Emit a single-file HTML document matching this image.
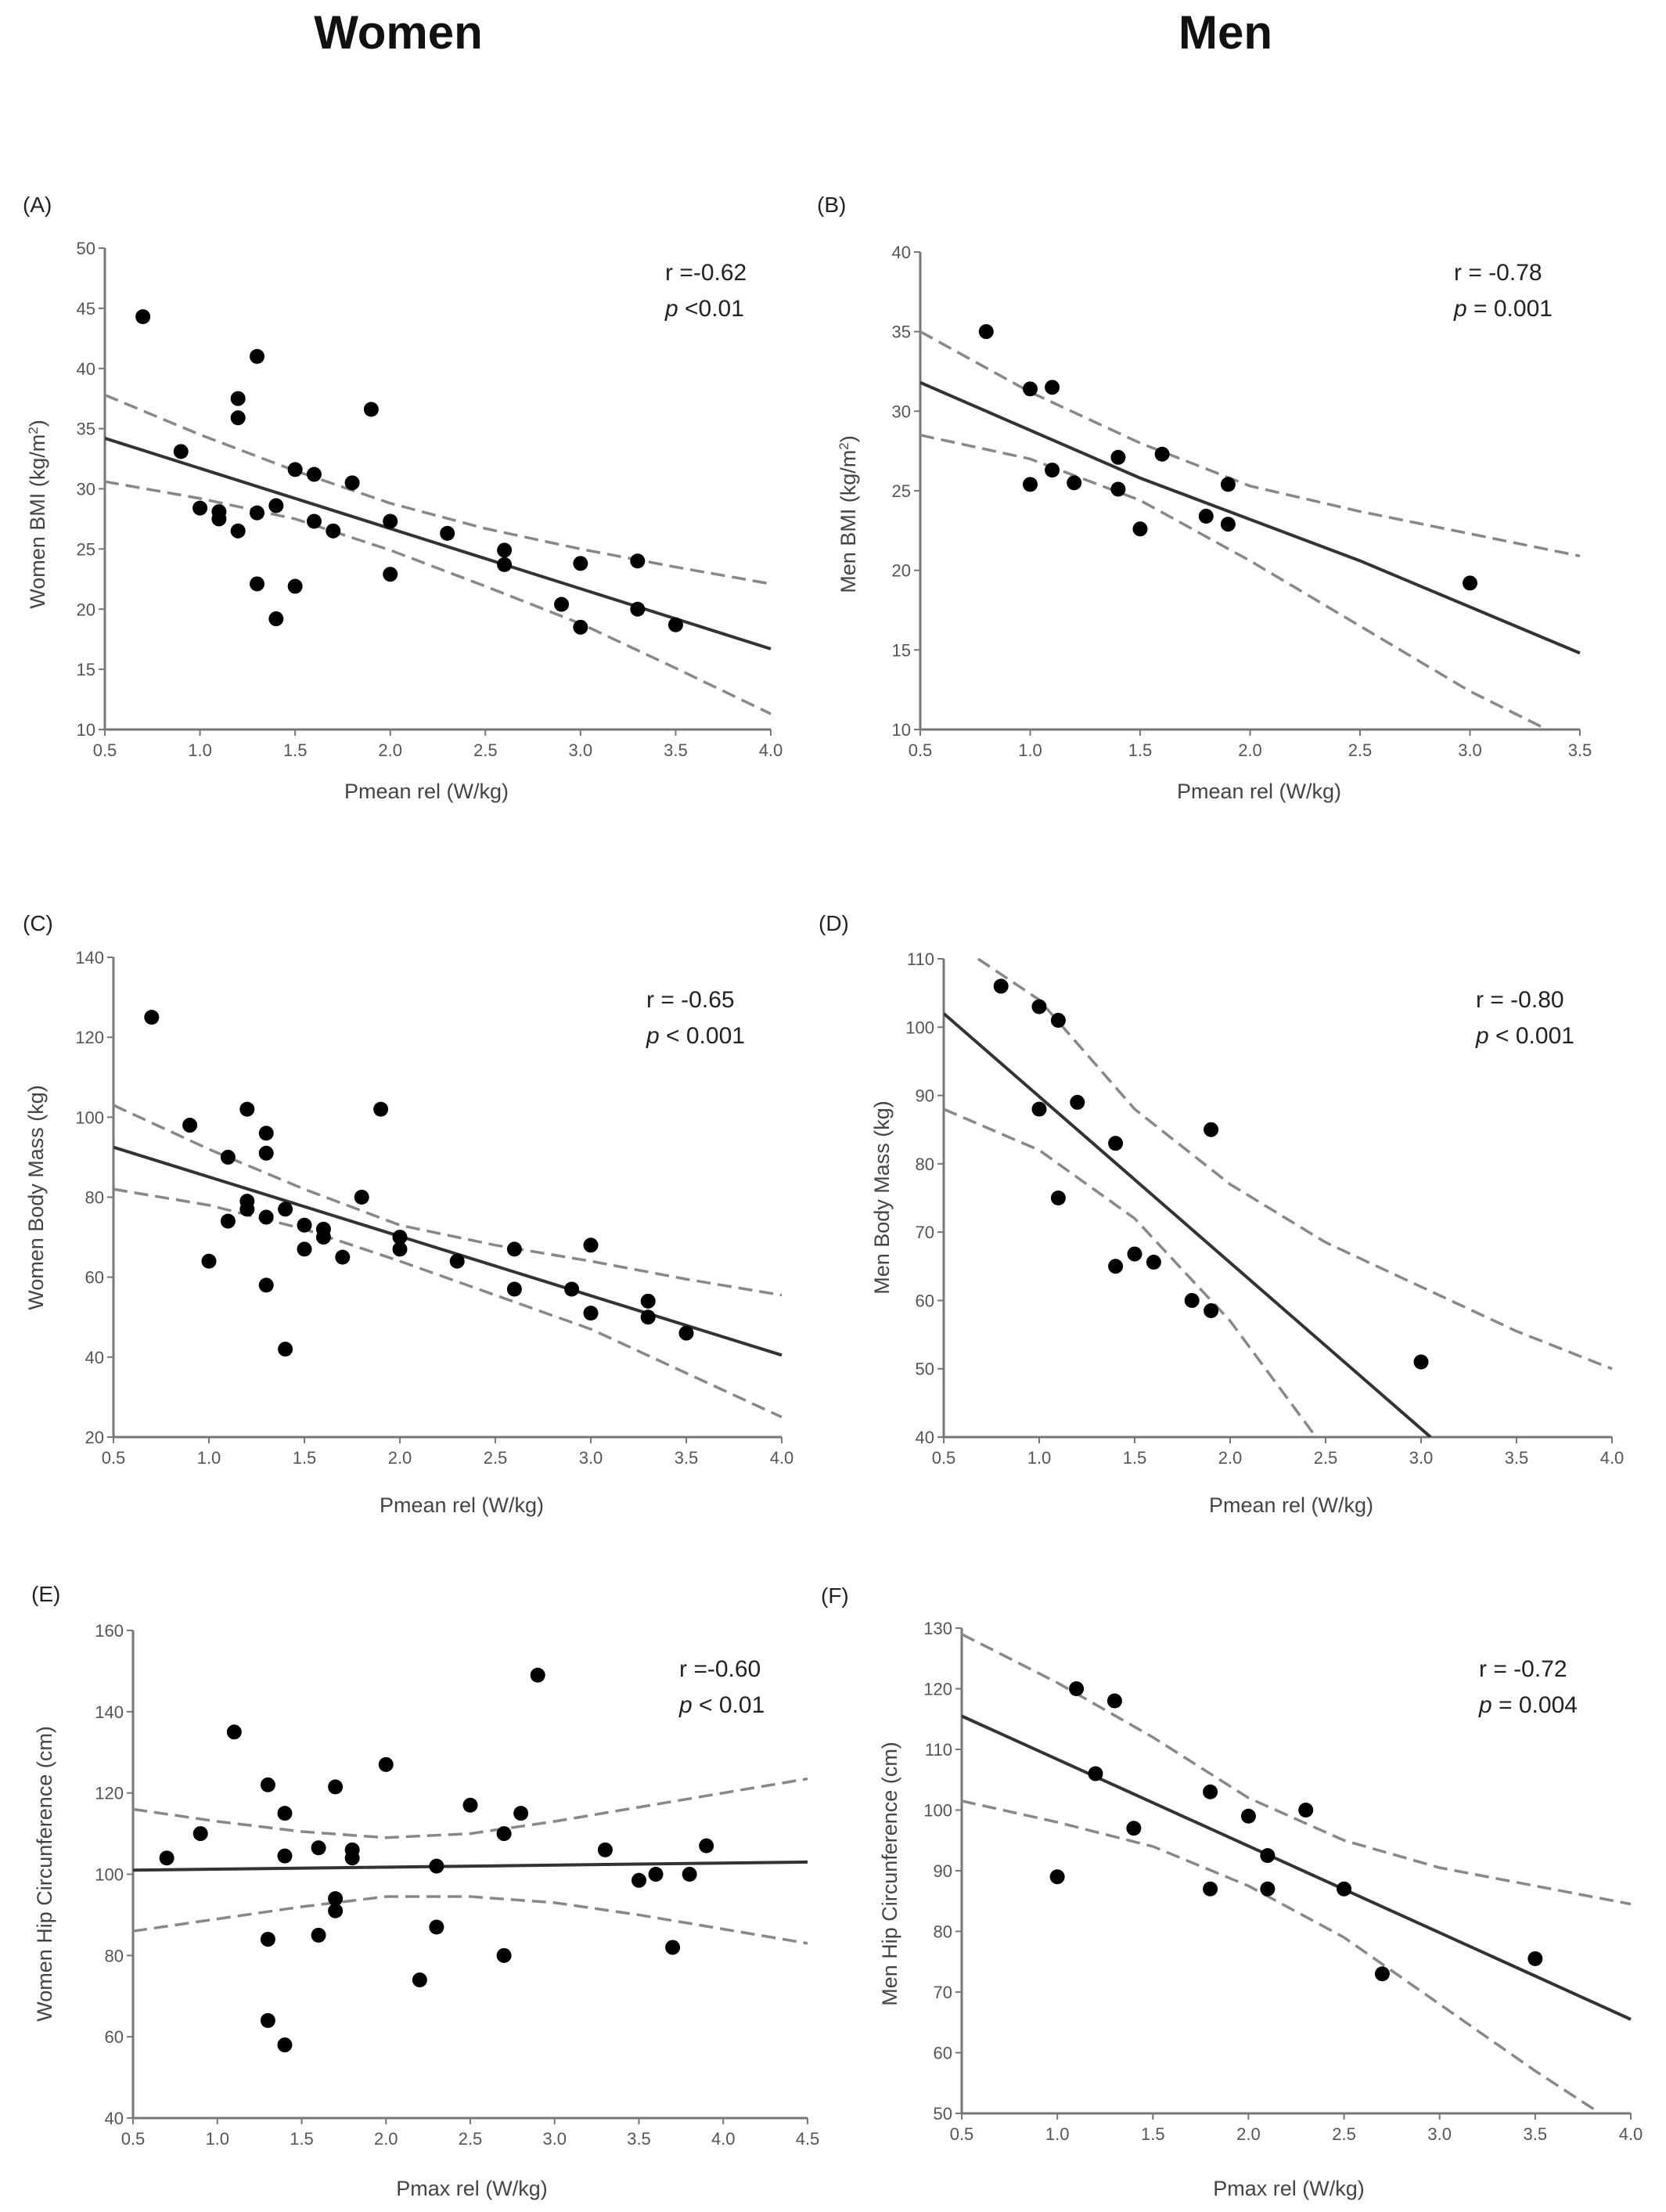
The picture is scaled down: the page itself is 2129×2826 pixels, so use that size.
<!DOCTYPE html>
<html><head><meta charset="utf-8">
<style>
html,body{margin:0;padding:0;background:#fff;}
svg{display:block;font-family:"Liberation Sans",sans-serif;}
</style></head>
<body>
<svg id="fig" width="2129" height="2826" viewBox="0 0 2129 2826" xmlns="http://www.w3.org/2000/svg">
<text x="509" y="62" text-anchor="middle" font-size="60" font-weight="bold" fill="#111">Women</text>
<text x="1566" y="62" text-anchor="middle" font-size="60" font-weight="bold" fill="#111">Men</text>
</svg>
<script>
// ---- Panel A data ----
const aX=[0.7,0.9,1.0,1.1,1.1,1.2,1.2,1.2,1.3,1.3,1.3,1.4,1.4,1.5,1.5,1.6,1.6,1.7,1.8,1.9,2.0,2.0,2.3,2.6,2.6,2.9,3.0,3.0,3.3,3.3,3.5];
const aY=[44.3,33.1,28.4,28.1,27.5,37.5,35.9,26.5,41,28,22.1,28.6,19.2,31.6,21.9,31.2,27.3,26.5,30.5,36.6,27.3,22.9,26.3,24.9,23.7,20.4,23.8,18.5,24,20,18.7];
const aFitX=[0.5,4.0], aFitY=[34.2,16.7];
const aCiX=[0.5,1.0,1.5,2.0,2.5,3.0,3.5,4.0];
const aUp=[37.8,34.5,31.5,28.8,26.7,25.0,23.5,22.1];
const aLo=[30.6,29.2,27.5,24.9,21.9,18.8,15.1,11.3];
// ---- Panel B data ----
const bX=[0.8,1.0,1.0,1.1,1.1,1.2,1.4,1.4,1.5,1.6,1.8,1.9,1.9,3.0];
const bY=[35,31.4,25.4,31.5,26.3,25.5,27.1,25.1,22.6,27.3,23.4,25.4,22.9,19.2];
const bFitX=[0.5,1.5,2.5,3.5], bFitY=[31.8,25.8,20.6,14.8];
const bUpX=[0.5,1.0,1.5,2.0,2.5,3.0,3.5];
const bUp=[35,31.2,28,25.3,23.7,22.3,20.9];
const bLoX=[0.5,1.0,1.5,2.0,2.5,3.0,3.35];
const bLo=[28.5,27,24.4,20.6,16.5,12.4,10];
// ---- Panel C data ----
const cX=[0.7,0.9,1.0,1.1,1.1,1.2,1.2,1.2,1.3,1.3,1.3,1.3,1.4,1.4,1.5,1.5,1.6,1.6,1.7,1.8,1.9,2.0,2.0,2.3,2.6,2.6,2.9,3.0,3.0,3.3,3.3,3.5];
const cY=[125,98,64,90,74,102,79,77,96,91,75,58,77,42,73,67,72,70,65,80,102,70,67,64,67,57,57,68,51,54,50,46];
const cFitX=[0.5,4.0], cFitY=[92.5,40.5];
const cCiX=[0.5,1.0,1.5,2.0,2.5,3.0,3.5,4.0];
const cUp=[103,92,82,73,68,64,59.5,55.5];
const cLo=[82,78,72,64,55.5,47,36,25];
// ---- Panel D data ----
const dX=[0.8,1.0,1.0,1.1,1.1,1.2,1.4,1.4,1.5,1.6,1.8,1.9,1.9,3.0];
const dY=[106,103,88,101,75,89,83,65,66.8,65.6,60,58.5,85,51];
const dFitX=[0.5,3.05], dFitY=[102,40];
const dUpX=[0.68,1.0,1.5,2.0,2.5,3.0,3.5,4.0];
const dUp=[110,104,88,77,68.5,62,55.5,50];
const dLoX=[0.5,1.0,1.5,2.0,2.45];
const dLo=[88,82,72,57,40];
// ---- Panel E data ----
const eX=[0.7,0.9,1.1,1.3,1.3,1.3,1.4,1.4,1.4,1.6,1.6,1.7,1.7,1.7,1.8,1.8,2.0,2.2,2.3,2.3,2.5,2.7,2.7,2.8,2.9,3.3,3.5,3.6,3.7,3.8,3.9];
const eY=[104,110,135,122,84,64,115,104.5,58,106.5,85,121.5,94,91,106,104,127,74,102,87,117,110,80,115,149,106,98.5,100,82,100,107];
const eFitX=[0.5,4.5], eFitY=[101,103];
const eCiX=[0.5,1.0,1.5,2.0,2.5,3.0,3.5,4.0,4.5];
const eUp=[116,113,110.5,109,110,113,116.5,120,123.5];
const eLo=[86,89,92,94.5,94.5,93,90,86.5,83];
// ---- Panel F data ----
const fX=[1.0,1.1,1.2,1.3,1.4,1.8,1.8,2.0,2.1,2.1,2.3,2.5,2.7,3.5];
const fY=[89,120,106,118,97,103,87,99,92.5,87,100,87,73,75.5];
const fFitX=[0.5,4.0], fFitY=[115.5,65.5];
const fUpX=[0.5,1.0,1.5,2.0,2.5,3.0,3.5,4.0];
const fUp=[129,121,112,102,95,90.5,87.5,84.5];
const fLoX=[0.5,1.0,1.5,2.0,2.5,3.0,3.5,3.84];
const fLo=[101.5,98,94,87.5,79,68,57,50];
// ---- ticks ----
const ticksX35=['0.5','1.0','1.5','2.0','2.5','3.0','3.5'];
const ticksX40=['0.5','1.0','1.5','2.0','2.5','3.0','3.5','4.0'];
const ticksX45=['0.5','1.0','1.5','2.0','2.5','3.0','3.5','4.0','4.5'];
const ticksYA=['10','15','20','25','30','35','40','45','50'];
const ticksYB=['10','15','20','25','30','35','40'];
const ticksYC=['20','40','60','80','100','120','140'];
const ticksYD=['40','50','60','70','80','90','100','110'];
const ticksYE=['40','60','80','100','120','140','160'];
const ticksYF=['50','60','70','80','90','100','110','120','130'];

const NS='http://www.w3.org/2000/svg';
const svg=document.getElementById('fig');
function mk(tag,attrs,parent){const e=document.createElementNS(NS,tag);for(const k in attrs)e.setAttribute(k,attrs[k]);(parent||svg).appendChild(e);return e;}

function panel(p){
  const g=mk('g',{});
  
  
  const xs=v=>p.x0+(v-p.xmin)/(p.xmax-p.xmin)*(p.x1-p.x0);
  const ys=v=>p.y1-(v-p.ymin)/(p.ymax-p.ymin)*(p.y1-p.y0);
  const lab=mk('text',{x:p.lx,y:p.ly,'font-size':28,fill:'#222'},g);lab.textContent='('+p.id+')';
  
  
  const ax=mk('path',{d:`M${p.x0},${p.y0}V${p.y1}H${p.x1}`,stroke:'#777',fill:'none','stroke-width':3},g);
  
  
  p.xt.forEach(t=>{const X=xs(+t);
    mk('line',{x1:X,x2:X,y1:p.y1,y2:p.y1+8,stroke:'#777','stroke-width':2},g);
    const tx=mk('text',{x:X,y:p.y1+34,'text-anchor':'middle','font-size':22,fill:'#555'},g);tx.textContent=t;
    
    });
  p.yt.forEach(t=>{const Y=ys(+t);
    mk('line',{x1:p.x0-8,x2:p.x0,y1:Y,y2:Y,stroke:'#777','stroke-width':2},g);
    const tx=mk('text',{x:p.x0-12,y:Y+8,'text-anchor':'end','font-size':22,fill:'#555'},g);tx.textContent=t;
    
    });
  const xtt=mk('text',{x:p.xtx,y:p.xty,'text-anchor':'middle','font-size':27,fill:'#444'},g);xtt.textContent=p.xtitle;
  
  
  const ytt=mk('text',{x:0,y:0,'text-anchor':'middle','font-size':27,fill:'#444',transform:`translate(${p.ytx},${p.yty}) rotate(-90)`},g);
  ytt.innerHTML=p.ytitle;
  
  
  const cid='clip'+p.id;
  const cp=mk('clipPath',{id:cid},g);mk('rect',{x:p.x0,y:p.y0-30,width:p.x1-p.x0+4,height:p.y1-p.y0+30},cp);
  const line=(X,Y,dash,name)=>{const pl=mk('polyline',{points:X.map((v,i)=>xs(v)+','+ys(Y[i])).join(' '),fill:'none',stroke:dash?'#888':'#333','stroke-width':dash?3.5:4,'stroke-dasharray':dash?'18 9':'none','clip-path':`url(#${cid})`},g);
    
    };
  line(p.upX,p.up,true,'upper-ci-line');
  line(p.loX,p.lo,true,'lower-ci-line');
  line(p.fitX,p.fitY,false,'regression-line');
  p.px.forEach((v,i)=>{const c=mk('circle',{cx:xs(v),cy:ys(p.py[i]),r:9.5,fill:'#000'},g);
    
    });
  const r=mk('text',{x:p.sx,y:p.sy,'font-size':30,fill:'#222'},g);r.textContent=p.r;
  
  
  const pv=mk('text',{x:p.sx,y:p.sy+46,'font-size':30,fill:'#222'},g);pv.innerHTML='<tspan font-style="italic">p</tspan>'+p.p;
  
  
}
const PM='Pmean rel (W/kg)', PX='Pmax rel (W/kg)';
panel({id:'A',x0:134,x1:985,y0:317,y1:932,xmin:0.5,xmax:4,ymin:10,ymax:50,xt:ticksX40,yt:ticksYA,lx:29,ly:271,xtitle:PM,xtx:545,xty:1020,ytitle:'Women  BMI (kg/m<tspan baseline-shift="super" font-size="17">2</tspan>)',ytx:57,yty:657,px:aX,py:aY,fitX:aFitX,fitY:aFitY,upX:aCiX,up:aUp,loX:aCiX,lo:aLo,sx:850,sy:358,r:'r =-0.62',p:' <0.01'});
panel({id:'B',x0:1176,x1:2019,y0:322,y1:932,xmin:0.5,xmax:3.5,ymin:10,ymax:40,xt:ticksX35,yt:ticksYB,lx:1044,ly:271,xtitle:PM,xtx:1609,xty:1020,ytitle:'Men  BMI (kg/m<tspan baseline-shift="super" font-size="17">2</tspan>)',ytx:1093,yty:657,px:bX,py:bY,fitX:bFitX,fitY:bFitY,upX:bUpX,up:bUp,loX:bLoX,lo:bLo,sx:1858,sy:358,r:'r = -0.78',p:' = 0.001'});
panel({id:'C',x0:145,x1:999,y0:1223,y1:1836,xmin:0.5,xmax:4,ymin:20,ymax:140,xt:ticksX40,yt:ticksYC,lx:29,ly:1189,xtitle:PM,xtx:590,xty:1932,ytitle:'Women Body Mass (kg)',ytx:55,yty:1530,px:cX,py:cY,fitX:cFitX,fitY:cFitY,upX:cCiX,up:cUp,loX:cCiX,lo:cLo,sx:826,sy:1287,r:'r = -0.65',p:' < 0.001'});
panel({id:'D',x0:1206,x1:2060,y0:1225,y1:1836,xmin:0.5,xmax:4,ymin:40,ymax:110,xt:ticksX40,yt:ticksYD,lx:1046,ly:1189,xtitle:PM,xtx:1650,xty:1932,ytitle:'Men Body Mass (kg)',ytx:1136,yty:1530,px:dX,py:dY,fitX:dFitX,fitY:dFitY,upX:dUpX,up:dUp,loX:dLoX,lo:dLo,sx:1886,sy:1287,r:'r = -0.80',p:' < 0.001'});
panel({id:'E',x0:170,x1:1032,y0:2083,y1:2706,xmin:0.5,xmax:4.5,ymin:40,ymax:160,xt:ticksX45,yt:ticksYE,lx:40,ly:2046,xtitle:PX,xtx:603,xty:2805,ytitle:'Women Hip Circunference (cm)',ytx:66,yty:2394,px:eX,py:eY,fitX:eFitX,fitY:eFitY,upX:eCiX,up:eUp,loX:eCiX,lo:eLo,sx:868,sy:2142,r:'r =-0.60',p:' < 0.01'});
panel({id:'F',x0:1229,x1:2084,y0:2080,y1:2700,xmin:0.5,xmax:4,ymin:50,ymax:130,xt:ticksX40,yt:ticksYF,lx:1049,ly:2048,xtitle:PX,xtx:1647,xty:2805,ytitle:'Men Hip Circunference (cm)',ytx:1146,yty:2394,px:fX,py:fY,fitX:fFitX,fitY:fFitY,upX:fUpX,up:fUp,loX:fLoX,lo:fLo,sx:1890,sy:2142,r:'r = -0.72',p:' = 0.004'});
</script>
</body></html>
